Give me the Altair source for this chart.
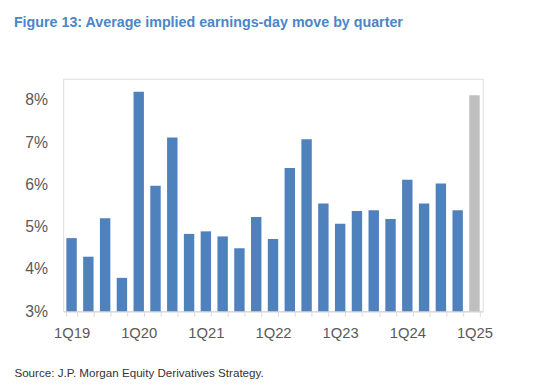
import altair as alt
import pandas as pd

quarters = ["1Q19", "2Q19", "3Q19", "4Q19",
            "1Q20", "2Q20", "3Q20", "4Q20",
            "1Q21", "2Q21", "3Q21", "4Q21",
            "1Q22", "2Q22", "3Q22", "4Q22",
            "1Q23", "2Q23", "3Q23", "4Q23",
            "1Q24", "2Q24", "3Q24", "4Q24",
            "1Q25"]
moves = [4.73, 4.29, 5.20, 3.79,
         8.19, 5.97, 7.11, 4.83,
         4.89, 4.77, 4.49, 5.23,
         4.71, 6.39, 7.07, 5.55,
         5.07, 5.37, 5.39, 5.18,
         6.11, 5.55, 6.02, 5.39,
         8.11]
kinds = ["actual"] * 24 + ["current"]

df = pd.DataFrame({"quarter": quarters, "move": moves, "kind": kinds})

font = "Liberation Sans, Arial, sans-serif"

chart = alt.Chart(df).mark_bar().encode(
    x=alt.X("quarter:N", sort=quarters,
            scale=alt.Scale(paddingInner=0.38, paddingOuter=0.19),
            axis=alt.Axis(
                title="Source: J.P. Morgan Equity Derivatives Strategy.",
                titleX=-50, titleY=66, titleAlign="left", titleBaseline="alphabetic",
                titleFont=font, titleFontSize=11.8, titleFontWeight="normal", titleColor="#333333",
                labelAngle=0, labelFont=font, labelFontSize=15, labelColor="#595959",
                labelPadding=10, labelExpr="indexof(datum.label, '1Q') == 0 ? datum.label : ''",
                tickBand="extent", tickSize=5, tickColor="#d9d9d9", domainColor="#d9d9d9",
                domainWidth=1.5, grid=False)),
    y=alt.Y("move:Q",
            scale=alt.Scale(domain=[3, 8.5], nice=False, zero=False),
            axis=alt.Axis(title=None, values=[3, 4, 5, 6, 7, 8],
                          labelExpr="datum.value + '%'",
                          labelFont=font, labelFontSize=16, labelColor="#595959",
                          labelPadding=16, domain=False, ticks=False, grid=False)),
    y2=alt.datum(3),
    color=alt.Color("kind:N",
                    scale=alt.Scale(domain=["actual", "current"], range=["#4f81bd", "#bfbfbf"]),
                    legend=None),
).properties(
    width=426,
    height=236,
    title=alt.TitleParams(
        "Figure 13: Average implied earnings-day move by quarter",
        anchor="start", frame="group", dx=-50, offset=49,
        font=font, fontSize=14.5, fontWeight="bold", color="#4a86c8"),
    autosize=alt.AutoSizeParams(type="none"),
    padding={"left": 56, "top": 69, "right": 57, "bottom": 68},
).configure_view(stroke=None).configure(background="white")

chart.save("out.html", embed_options={"renderer": "svg", "actions": False})
